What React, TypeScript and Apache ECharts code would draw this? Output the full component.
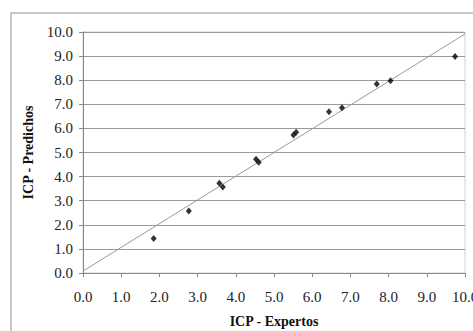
import React, { useEffect, useRef } from "react";
import * as echarts from "echarts";

const expertos = [1.85, 2.77, 3.57, 3.66, 4.53, 4.6, 5.51, 5.58, 6.44, 6.78, 7.69, 8.05, 9.74];
const predichos = [1.43, 2.57, 3.72, 3.57, 4.72, 4.6, 5.73, 5.84, 6.69, 6.86, 7.84, 7.98, 8.98];
const fitX = [0, 10];
const fitY = [0.08, 9.92];

export default function App() {
  const ref = useRef<HTMLDivElement>(null);
  useEffect(() => {
    if (!ref.current) return;
    const chart = echarts.init(ref.current, null, { renderer: "svg" });
    const font = "'Liberation Serif', 'Times New Roman', serif";
    chart.setOption({
      animation: false,
      backgroundColor: "#fff",
      textStyle: { fontFamily: font },
      graphic: [
        {
          type: "rect",
          shape: { x: 11, y: 13, width: 480, height: 340 },
          style: { fill: "none", stroke: "#b5b5b5", lineWidth: 1.5 },
          silent: true,
        },
      ],
      grid: {
        left: 83,
        top: 32,
        right: 8,
        bottom: 58,
        show: true,
        borderColor: "#d0d0d0",
        borderWidth: 1,
        containLabel: false,
        outerBoundsMode: "none",
      },
      xAxis: {
        type: "value",
        min: 0,
        max: 10,
        interval: 1,
        name: "ICP - Expertos",
        nameLocation: "middle",
        nameGap: 41,
        nameTextStyle: { fontFamily: font, fontWeight: "bold", fontSize: 14, color: "#111" },
        axisLine: { show: true, lineStyle: { color: "#888", width: 1 } },
        axisTick: { show: true, length: 4, lineStyle: { color: "#888" } },
        axisLabel: {
          fontFamily: font,
          fontSize: 15,
          color: "#222",
          margin: 16,
          hideOverlap: false,
          formatter: (v: number) => v.toFixed(1),
        },
        splitLine: { show: false },
      },
      yAxis: {
        type: "value",
        min: 0,
        max: 10,
        interval: 1,
        name: "ICP - Predichos",
        nameLocation: "middle",
        nameGap: 48,
        nameTextStyle: { fontFamily: font, fontWeight: "bold", fontSize: 14, color: "#111" },
        axisLine: { show: true, lineStyle: { color: "#888", width: 1 } },
        axisTick: { show: true, length: 4, lineStyle: { color: "#888" } },
        axisLabel: {
          fontFamily: font,
          fontSize: 15,
          color: "#222",
          margin: 10,
          formatter: (v: number) => v.toFixed(1),
        },
        splitLine: { show: true, lineStyle: { color: "#9a9a9a", width: 1 } },
      },
      series: [
        {
          type: "line",
          data: fitX.map((x, i) => [x, fitY[i]]),
          showSymbol: false,
          symbol: "none",
          lineStyle: { color: "#999", width: 1 },
          z: 2,
        },
        {
          type: "scatter",
          data: expertos.map((x, i) => [x, predichos[i]]),
          symbol: "diamond",
          symbolSize: [6, 7],
          itemStyle: { color: "#000" },
          z: 3,
        },
      ],
    });
    return () => chart.dispose();
  }, []);
  return (
    <div
      ref={ref}
      style={{ position: "fixed", left: 0, top: 0, width: 473, height: 331 }}
    />
  );
}
